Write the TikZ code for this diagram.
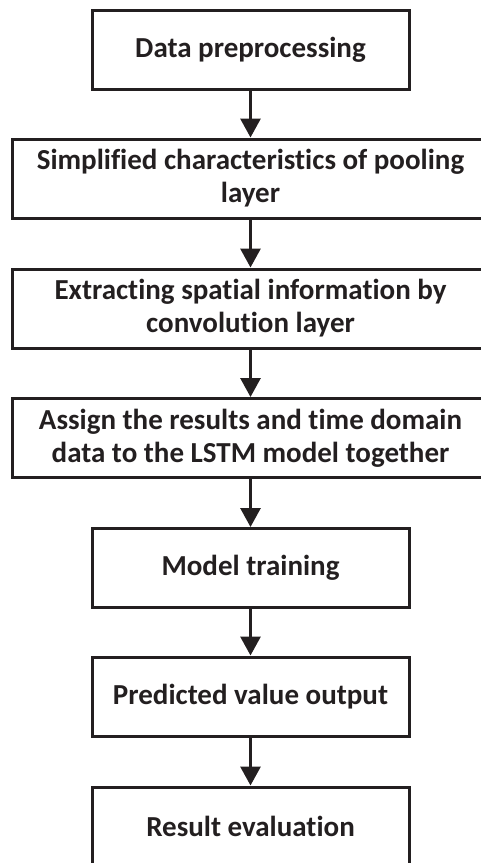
\documentclass[tikz,border=0pt]{standalone}
\usepackage{fontspec}
\setmainfont[Ligatures=NoCommon]{Carlito}
\usetikzlibrary{arrows.meta}
\definecolor{ink}{HTML}{231F20}
\begin{document}
\begin{tikzpicture}[x=1pt,y=-1pt,
  stepbox/.style={draw=ink,text=ink,line width=3pt,minimum height=79pt,
    align=center,inner sep=0pt,
    font=\bfseries\fontsize{29}{33}\selectfont},
  narrowbox/.style={stepbox,minimum width=317pt},
  widebox/.style={stepbox,minimum width=477pt},
  flow/.style={draw=ink,line width=3pt,
    -{Triangle[length=19pt,width=20pt]}}]
  \useasboundingbox (0,0) rectangle (481,863);
  \node[narrowbox] (b1) at (250.5,49.5) {Data preprocessing};
  \node[widebox] (b2) at (250.5,178.5) {Simplified characteristics of pooling\\layer};
  \node[widebox] (b3) at (250.5,308.5) {Extracting spatial information by\\convolution layer};
  \node[widebox] (b4) at (250.5,438) {Assign the results and time domain\\data to the LSTM model together};
  \node[narrowbox] (b5) at (250.5,568) {Model training};
  \node[narrowbox] (b6) at (250.5,696.5) {Predicted value output};
  \node[narrowbox] (b7) at (250.5,826.5) {Result evaluation};
  \foreach \a/\b in {b1/b2,b2/b3,b3/b4,b4/b5,b5/b6,b6/b7}
    \draw[flow] (\a) -- (\b);
\end{tikzpicture}
\end{document}
